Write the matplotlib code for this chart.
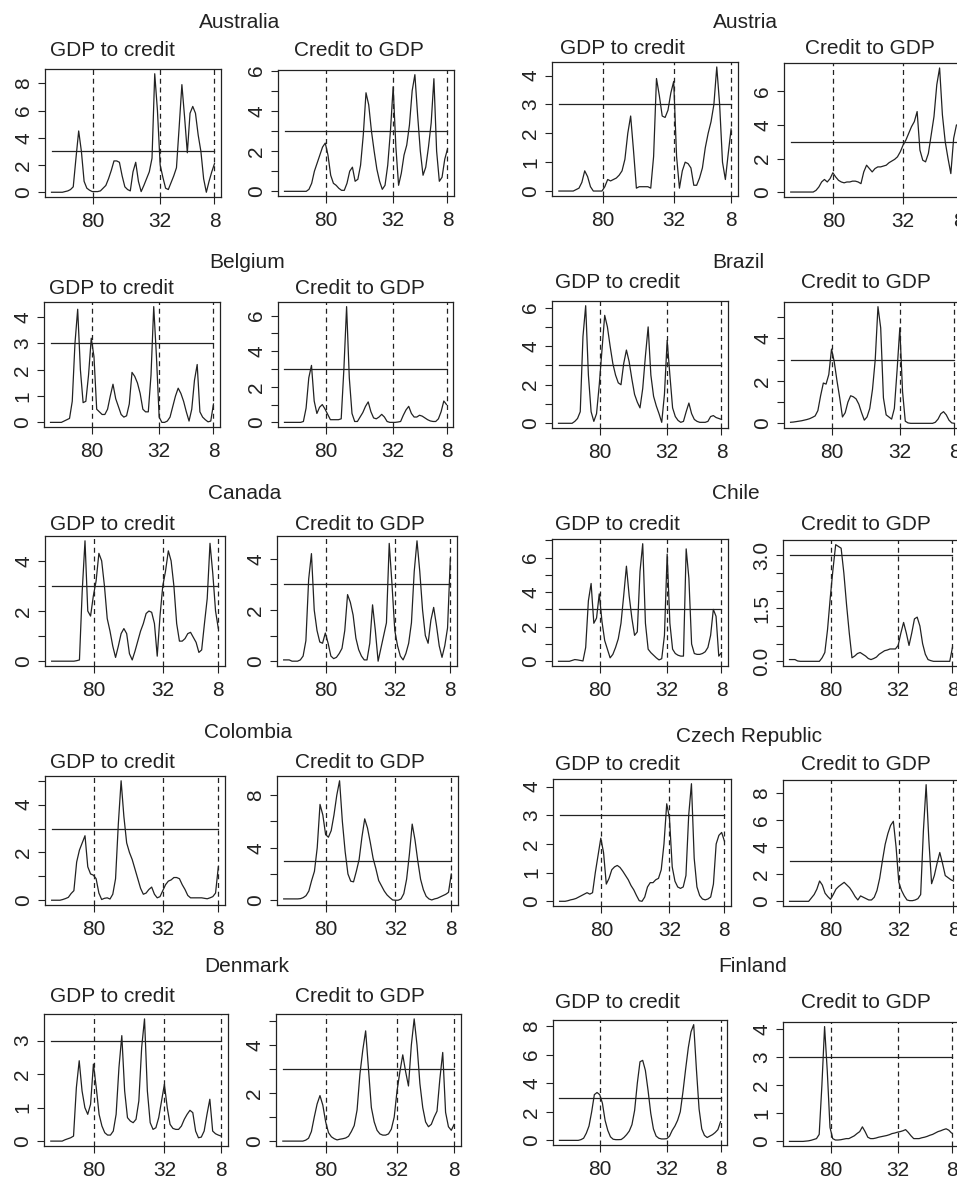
import numpy as np
import matplotlib
matplotlib.use("Agg")
import matplotlib.pyplot as plt

plt.rcParams["font.family"] = ["Liberation Sans", "DejaVu Sans"]

W, H = 957, 1183
INK = "#222222"
FS = 15

# ---- data: each curve sampled on the same 61-point frequency grid ----
aus_g2c = [0, 0, 0, 0, 0, 0.05, 0.1, 0.2, 0.4, 2.5,
           4.5, 3.0, 0.8, 0.3, 0.15, 0.05, 0.05, 0.05, 0.1, 0.3,
           0.5, 1.0, 1.6, 2.3, 2.3, 2.2, 1.2, 0.4, 0.2, 0.1,
           1.5, 2.2, 0.8, 0.05, 0.5, 1.0, 1.5, 2.5, 8.7, 6.0,
           2.0, 1.1, 0.3, 0.2, 0.7, 1.2, 1.8, 4.8, 7.9, 5.5,
           2.9, 5.8, 6.3, 5.8, 4.2, 3.0, 1.0, 0.0, 0.8, 1.5,
           2.1]
aus_c2g = [0, 0, 0, 0, 0, 0, 0, 0, 0, 0.1,
           0.4, 1.0, 1.4, 1.8, 2.2, 2.4, 1.8, 0.8, 0.4, 0.3,
           0.15, 0.05, 0.05, 0.4, 1.0, 1.2, 0.5, 0.6, 1.3, 2.8,
           4.9, 4.3, 3.0, 2.0, 1.1, 0.5, 0.1, 0.3, 1.3, 3.0,
           5.2, 2.2, 0.3, 0.9, 1.8, 2.3, 3.3, 5.0, 5.8, 3.8,
           2.0, 0.8, 1.2, 2.2, 3.4, 5.6, 2.0, 0.5, 0.7, 1.6,
           2.1]
aut_g2c = [0, 0, 0, 0, 0, 0, 0.05, 0.1, 0.3, 0.7,
           0.5, 0.15, 0, 0, 0, 0, 0.15, 0.4, 0.35, 0.4,
           0.45, 0.55, 0.7, 1.1, 2.0, 2.6, 1.4, 0.1, 0.15, 0.15,
           0.15, 0.15, 0.1, 1.2, 3.9, 3.3, 2.6, 2.55, 2.8, 3.4,
           3.8, 1.2, 0.1, 0.7, 1.0, 0.95, 0.8, 0.2, 0.2, 0.45,
           0.8, 1.5, 2.0, 2.4, 3.0, 4.3, 3.0, 1.0, 0.4, 1.3,
           2.15]
aut_c2g = [0, 0, 0, 0, 0, 0, 0, 0, 0, 0.1,
           0.3, 0.6, 0.75, 0.6, 0.8, 1.15, 0.9, 0.7, 0.6, 0.55,
           0.6, 0.6, 0.65, 0.65, 0.6, 0.5, 1.2, 1.6, 1.4, 1.2,
           1.4, 1.5, 1.5, 1.55, 1.6, 1.75, 1.85, 1.95, 2.1, 2.4,
           2.8, 3.1, 3.5, 3.9, 4.2, 4.8, 2.5, 1.9, 1.8, 2.3,
           3.4, 4.5, 6.4, 7.4, 4.6, 3.0, 2.0, 1.1, 3.2, 4.0,
           4.0]
bel_g2c = [0, 0, 0, 0, 0, 0.05, 0.1, 0.15, 0.8, 3.0,
           4.3, 2.0, 0.75, 0.8, 1.8, 3.2, 2.5, 0.5, 0.4, 0.3,
           0.3, 0.5, 1.0, 1.45, 0.9, 0.6, 0.3, 0.2, 0.25, 0.7,
           1.9, 1.75, 1.5, 1.1, 0.5, 0.4, 0.4, 1.8, 4.4, 2.5,
           0.2, 0, 0, 0.05, 0.2, 0.6, 1.0, 1.3, 1.1, 0.8,
           0.4, 0.05, 0.5, 1.6, 2.2, 0.4, 0.2, 0.1, 0.02, 0.05,
           0.7]
bel_c2g = [0, 0, 0, 0, 0, 0, 0, 0.05, 0.8, 2.5,
           3.2, 1.2, 0.5, 0.85, 1.0, 0.75, 0.45, 0.15, 0.15, 0.15,
           0.15, 0.2, 3.0, 6.5, 2.5, 0.5, 0.05, 0.05, 0.3, 0.55,
           0.9, 1.15, 0.6, 0.25, 0.2, 0.3, 0.45, 0.3, 0.05, 0,
           0, 0, 0.02, 0.05, 0.4, 0.7, 0.9, 0.5, 0.3, 0.3,
           0.4, 0.35, 0.25, 0.15, 0.08, 0.05, 0.05, 0.2, 0.6, 1.2,
           1.0]
bra_g2c = [0, 0, 0, 0, 0, 0, 0.1, 0.25, 0.6, 4.5,
           6.1, 2.5, 0.6, 0.1, 0.5, 2.0, 3.8, 5.6, 5.0, 4.0,
           3.1, 2.5, 2.1, 2.0, 3.1, 3.8, 3.2, 2.3, 1.5, 1.1,
           0.8, 1.8, 3.5, 5.0, 2.5, 1.4, 0.9, 0.5, 0.05, 1.5,
           4.3, 2.5, 0.8, 0.35, 0.15, 0.05, 0.1, 0.6, 1.05, 0.5,
           0.2, 0.1, 0.05, 0.05, 0.05, 0.1, 0.35, 0.4, 0.3, 0.25,
           0.2]
bra_c2g = [0.05, 0.06, 0.08, 0.1, 0.12, 0.15, 0.18, 0.22, 0.28, 0.35,
           0.6, 1.3, 1.9, 1.85, 2.3, 3.5, 2.9, 2.0, 1.2, 0.3,
           0.5, 1.0, 1.3, 1.25, 1.15, 0.9, 0.5, 0.15, 0.3, 0.7,
           1.6, 3.0, 5.5, 4.5, 1.2, 0.4, 0.3, 0.2, 0.7, 2.5,
           4.5, 1.5, 0.1, 0.02, 0, 0, 0, 0, 0, 0,
           0, 0, 0, 0.05, 0.2, 0.45, 0.55, 0.4, 0.15, 0.02,
           0]
can_g2c = [0, 0, 0, 0, 0, 0, 0, 0, 0, 0.02,
           0.05, 2.8, 4.8, 2.0, 1.8, 2.6, 3.2, 4.3, 4.0, 3.0,
           1.7, 1.2, 0.6, 0.15, 0.6, 1.1, 1.3, 1.1, 0.3, 0.05,
           0.4, 0.8, 1.2, 1.5, 1.9, 2.0, 1.95, 1.5, 0.2, 1.8,
           3.0, 3.6, 4.4, 4.0, 3.0, 1.5, 0.8, 0.8, 0.9, 1.1,
           1.15, 0.95, 0.75, 0.35, 0.45, 1.5, 2.5, 4.7, 3.5, 2.0,
           1.3]
can_c2g = [0.05, 0.05, 0.05, 0, 0, 0, 0.05, 0.2, 0.8, 3.2,
           4.2, 2.0, 1.2, 0.75, 0.7, 1.1, 0.7, 0.2, 0.1, 0.15,
           0.3, 0.5, 1.2, 2.6, 2.3, 1.8, 0.9, 0.45, 0.2, 0.05,
           0.05, 0.7, 2.2, 1.2, 0.0, 0.5, 1.0, 1.5, 4.6, 3.0,
           1.2, 0.6, 0.2, 0.05, 0.3, 0.7, 1.5, 3.5, 4.7, 3.5,
           2.0, 1.0, 0.7, 1.6, 2.1, 1.4, 0.6, 0.15, 0.6, 1.3,
           4.0]
chl_g2c = [0, 0, 0, 0, 0, 0.05, 0.1, 0.08, 0.05, 0.02,
           0.8, 3.5, 4.5, 2.2, 2.5, 3.9, 2.3, 1.2, 0.7, 0.2,
           0.4, 0.8, 1.3, 2.2, 3.8, 5.5, 3.8, 2.5, 1.5, 1.7,
           5.2, 6.8, 2.2, 0.7, 0.5, 0.35, 0.2, 0.08, 0.15, 1.5,
           6.2, 2.2, 0.7, 0.45, 0.35, 0.3, 0.3, 6.5, 4.8, 1.0,
           0.45, 0.4, 0.4, 0.45, 0.55, 0.8, 1.5, 3.0, 2.6, 0.3,
           0.5]
chl_c2g = [0.05, 0.05, 0.05, 0.01, 0, 0, 0, 0, 0, 0,
           0, 0, 0.1, 0.25, 0.9, 1.8, 2.6, 3.3, 3.25, 3.2,
           2.5, 1.6, 0.8, 0.1, 0.15, 0.22, 0.25, 0.2, 0.15, 0.08,
           0.05, 0.08, 0.12, 0.2, 0.25, 0.3, 0.32, 0.35, 0.35, 0.35,
           0.45, 0.8, 1.1, 0.8, 0.45, 0.8, 1.2, 1.25, 1.0, 0.5,
           0.2, 0.05, 0.02, 0, 0, 0, 0, 0, 0, 0,
           0.4]
col_g2c = [0, 0, 0, 0, 0.03, 0.07, 0.12, 0.28, 0.4, 1.6,
           2.1, 2.4, 2.7, 1.4, 1.1, 1.05, 0.9, 0.3, 0.03, 0.08,
           0.1, 0.05, 0.25, 0.9, 3.2, 5.0, 3.5, 2.4, 2.0, 1.7,
           1.3, 0.9, 0.5, 0.25, 0.3, 0.45, 0.55, 0.25, 0.1, 0.15,
           0.4, 0.65, 0.8, 0.85, 0.95, 0.95, 0.9, 0.65, 0.45, 0.2,
           0.1, 0.1, 0.1, 0.1, 0.1, 0.08, 0.06, 0.1, 0.15, 0.3,
           1.4]
col_c2g = [0.1, 0.1, 0.1, 0.1, 0.1, 0.1, 0.12, 0.2, 0.35, 0.7,
           1.5, 2.2, 4.0, 7.3, 6.5, 5.0, 4.8, 5.3, 6.5, 8.0,
           9.1, 6.0, 3.7, 2.0, 1.45, 1.4, 2.2, 3.1, 4.8, 6.2,
           5.5, 4.4, 3.2, 2.4, 1.5, 1.1, 0.7, 0.4, 0.2, 0.02,
           0, 0, 0.1, 0.5, 1.6, 3.5, 5.8, 4.6, 3.0, 1.6,
           0.8, 0.3, 0.1, 0.02, 0.1, 0.15, 0.25, 0.35, 0.45, 0.6,
           2.0]
cze_g2c = [0, 0, 0, 0.02, 0.05, 0.07, 0.1, 0.15, 0.2, 0.25,
           0.3, 0.25, 0.3, 1.0, 1.6, 2.2, 1.7, 0.6, 0.8, 1.1,
           1.2, 1.25, 1.18, 1.05, 0.9, 0.75, 0.55, 0.4, 0.2, 0.02,
           0, 0.15, 0.5, 0.65, 0.65, 0.75, 0.8, 1.1, 2.0, 3.4,
           2.9, 1.2, 0.7, 0.5, 0.45, 0.5, 0.9, 3.0, 4.1, 1.5,
           0.5, 0.2, 0.08, 0.05, 0.08, 0.15, 0.6, 2.0, 2.3, 2.4,
           2.1]
cze_c2g = [0, 0, 0, 0, 0, 0, 0, 0, 0.25, 0.5,
           0.9, 1.5, 1.2, 0.6, 0.35, 0.15, 0.5, 0.9, 1.1, 1.25,
           1.4, 1.2, 1.0, 0.7, 0.35, 0.1, 0.4, 0.3, 0.2, 0.1,
           0.1, 0.3, 0.8, 1.7, 3.0, 4.2, 5.0, 5.6, 5.9, 4.0,
           1.4, 0.8, 0.4, 0.1, 0.05, 0.05, 0.1, 0.2, 0.5, 5.2,
           8.6, 4.5, 1.3, 1.9, 2.8, 3.6, 2.8, 1.9, 1.75, 1.6,
           1.5]
dnk_g2c = [0, 0, 0, 0, 0, 0.04, 0.07, 0.1, 0.15, 1.6,
           2.4, 1.5, 1.0, 0.8, 1.1, 2.3, 1.6, 0.8, 0.45, 0.25,
           0.18, 0.18, 0.3, 0.8, 2.2, 3.15, 1.5, 0.7, 0.6, 0.55,
           0.65, 1.2, 2.8, 3.65, 1.5, 0.55, 0.35, 0.4, 0.7, 1.2,
           1.7, 1.0, 0.5, 0.38, 0.35, 0.35, 0.45, 0.65, 0.8, 0.92,
           0.85, 0.3, 0.1, 0.12, 0.3, 0.8, 1.25, 0.3, 0.22, 0.18,
           0.15]
dnk_c2g = [0, 0, 0, 0, 0, 0, 0, 0, 0.04, 0.12,
           0.4, 1.0, 1.55, 1.9, 1.5, 0.8, 0.35, 0.18, 0.1, 0.05,
           0.08, 0.1, 0.13, 0.2, 0.4, 0.65, 1.3, 2.8, 3.8, 4.6,
           3.0, 1.4, 0.8, 0.45, 0.3, 0.25, 0.25, 0.3, 0.5, 1.0,
           2.1, 2.9, 3.6, 2.9, 2.3, 4.0, 5.1, 4.0, 2.4, 1.4,
           0.8, 0.6, 0.7, 1.0, 1.25, 2.6, 3.7, 1.2, 0.6, 0.45,
           0.7]
fin_g2c = [0, 0, 0, 0, 0, 0, 0, 0, 0.05, 0.15,
           0.5, 1.0, 2.0, 3.2, 3.35, 3.2, 2.6, 1.4, 0.7, 0.25,
           0.08, 0.05, 0.05, 0.06, 0.2, 0.4, 0.65, 1.1, 2.1, 4.0,
           5.5, 5.6, 4.9, 3.5, 1.9, 0.8, 0.3, 0.15, 0.1, 0.1,
           0.12, 0.3, 0.7, 1.0, 1.4, 2.0, 3.4, 5.0, 6.5, 7.6,
           8.1, 5.0, 2.2, 0.8, 0.35, 0.2, 0.3, 0.4, 0.55, 0.75,
           1.3]
fin_c2g = [0, 0, 0, 0, 0, 0, 0.01, 0.02, 0.04, 0.07,
           0.1, 0.25, 2.0, 4.1, 2.5, 0.5, 0.1, 0.05, 0.05, 0.06,
           0.08, 0.1, 0.1, 0.15, 0.2, 0.28, 0.35, 0.52, 0.35, 0.15,
           0.1, 0.1, 0.12, 0.15, 0.17, 0.19, 0.21, 0.24, 0.28, 0.3,
           0.33, 0.35, 0.38, 0.42, 0.32, 0.2, 0.1, 0.1, 0.1, 0.13,
           0.15, 0.18, 0.22, 0.25, 0.3, 0.35, 0.38, 0.42, 0.45, 0.4,
           0.3]

panel_titles = ["GDP to credit", "Credit to GDP"]
period_labels = ["80", "32", "8"]
period_at = [15.2, 40, 60]      # where those periods sit on the grid
threshold = 3

countries = ["Australia", "Austria", "Belgium", "Brazil", "Canada", "Chile",
             "Colombia", "Czech Republic", "Denmark", "Finland"]
curves = {
    "Australia": (aus_g2c, aus_c2g),
    "Austria": (aut_g2c, aut_c2g),
    "Belgium": (bel_g2c, bel_c2g),
    "Brazil": (bra_g2c, bra_c2g),
    "Canada": (can_g2c, can_c2g),
    "Chile": (chl_g2c, chl_c2g),
    "Colombia": (col_g2c, col_c2g),
    "Czech Republic": (cze_g2c, cze_c2g),
    "Denmark": (dnk_g2c, dnk_c2g),
    "Finland": (fin_g2c, fin_c2g),
}
# y tick step, label every n-th tick, label format
yaxis = {
    "Australia": [(2, 1, "{:g}"), (1, 2, "{:g}")],
    "Austria": [(1, 1, "{:g}"), (2, 1, "{:g}")],
    "Belgium": [(1, 1, "{:g}"), (1, 2, "{:g}")],
    "Brazil": [(1, 2, "{:g}"), (1, 2, "{:g}")],
    "Canada": [(1, 2, "{:g}"), (1, 2, "{:g}")],
    "Chile": [(1, 2, "{:g}"), (0.5, 3, "{:.1f}")],
    "Colombia": [(1, 2, "{:g}"), (2, 2, "{:g}")],
    "Czech Republic": [(1, 1, "{:g}"), (2, 1, "{:g}")],
    "Denmark": [(1, 1, "{:g}"), (1, 2, "{:g}")],
    "Finland": [(2, 1, "{:g}"), (1, 1, "{:g}")],
}

# ---- layout in pixels: axes boxes (left, top, right, bottom), text centres ----
layout = {
    "Australia": dict(boxes=[(45, 69, 221, 197), (278, 70, 454, 196)],
                      title=(240, 20), subs=[(112, 48.5), (359, 48.5)]),
    "Austria": dict(boxes=[(552, 62, 738, 196), (784, 63, 966, 197)],
                    title=(745, 20), subs=[(622, 47), (870, 47)]),
    "Belgium": dict(boxes=[(44, 302, 220, 427), (278, 302, 453, 427)],
                    title=(247, 260), subs=[(111, 287), (360, 287)]),
    "Brazil": dict(boxes=[(552, 301, 728, 428), (784, 302, 961, 428)],
                   title=(738, 260), subs=[(617, 280), (866, 280)]),
    "Canada": dict(boxes=[(45, 536, 225, 666), (277, 536, 457, 666)],
                   title=(245, 492), subs=[(112, 522), (360, 522)]),
    "Chile": dict(boxes=[(552, 539, 728, 666), (783, 540, 959, 666)],
                  title=(736, 492), subs=[(617, 522), (866, 522)]),
    "Colombia": dict(boxes=[(45, 776, 225, 905), (277, 776, 458, 905)],
                     title=(248, 731), subs=[(112, 760), (360, 760)]),
    "Czech Republic": dict(boxes=[(553, 779, 731, 906), (783, 780, 960, 906)],
                           title=(749, 734), subs=[(617, 762), (866, 762)]),
    "Denmark": dict(boxes=[(44, 1014, 228, 1146), (276, 1014, 461, 1146)],
                    title=(247, 965), subs=[(112, 995), (360, 995)]),
    "Finland": dict(boxes=[(553, 1020, 727, 1145), (783, 1022, 958, 1146)],
                    title=(753, 965), subs=[(617, 1000), (866, 1000)]),
}


def px_rect(box):
    l, t, r, b = box
    return [l / W, 1 - b / H, (r - l) / W, (b - t) / H]


def put_text(fig, xy, s):
    # xy is the visual centre of the capitals; place by baseline
    x, y = xy
    fig.text(x / W, 1 - (y + 7.5) / H, s, ha="center", va="baseline",
             fontsize=FS, color=INK)


def draw_panel(ax, y, step, every, fmt):
    x = np.arange(len(y))
    n = len(y) - 1
    ax.plot(x, y, color=INK, lw=0.9)
    ax.plot([0, n], [threshold, threshold], color=INK, lw=0.9)
    for p in period_at:
        ax.axvline(p, color=INK, lw=0.9, ls=(0, (4, 3)))

    ax.set_xlim(-0.04 * n, 1.04 * n)
    lo, hi = min(y), max(y)
    pad = 0.04 * (hi - lo)
    ax.set_ylim(lo - pad, hi + pad)

    ax.set_xticks(period_at)
    ax.set_xticklabels(period_labels)
    ticks = np.arange(0, hi + pad + 1e-9, step)
    labels = [fmt.format(t) if k % every == 0 else "" for k, t in enumerate(ticks)]
    ax.set_yticks(ticks)
    ax.set_yticklabels(labels, rotation=90, va="center")

    ax.tick_params(direction="out", length=5, width=0.8, color=INK,
                   labelsize=FS, labelcolor=INK)
    ax.tick_params(axis="x", pad=5.5)
    ax.tick_params(axis="y", pad=3.5)
    for sp in ax.spines.values():
        sp.set_color(INK)
        sp.set_linewidth(0.9)


fig = plt.figure(figsize=(W / 100, H / 100), dpi=100)

for c in countries:
    lay = layout[c]
    put_text(fig, lay["title"], c)
    for k in range(2):
        ax = fig.add_axes(px_rect(lay["boxes"][k]))
        step, every, fmt = yaxis[c][k]
        draw_panel(ax, curves[c][k], step, every, fmt)
        put_text(fig, lay["subs"][k], panel_titles[k])

fig.savefig("out.png", dpi=100)
